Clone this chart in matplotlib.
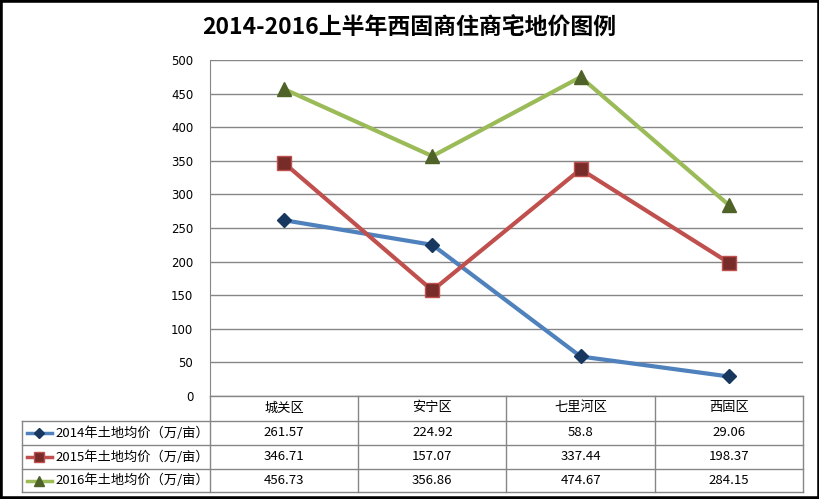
import matplotlib
matplotlib.use("Agg")
import matplotlib.pyplot as plt
import matplotlib.transforms as mtransforms
from matplotlib.lines import Line2D
from matplotlib.patches import Rectangle

plt.rcParams['font.family'] = ['Noto Sans CJK SC', 'DejaVu Sans']

TITLE = "2014-2016上半年西固商住商宅地价图例"
districts = ["城关区", "安宁区", "七里河区", "西固区"]
series_names = ["2014年土地均价（万/亩）", "2015年土地均价（万/亩）",
                "2016年土地均价（万/亩）"]
price_2014 = [261.57, 224.92, 58.8, 29.06]
price_2015 = [346.71, 157.07, 337.44, 198.37]
price_2016 = [456.73, 356.86, 474.67, 284.15]
y_ticks = [0, 50, 100, 150, 200, 250, 300, 350, 400, 450, 500]

W, H = 820, 499
GRID_C = "#868686"
styles = [  # line colour, marker, marker face, marker edge, marker size
    ("#4F81BD", "D", "#17375E", "#17375E", 7),
    ("#C0504D", "s", "#772C2A", "#C0504D", 10.5),
    ("#9BBB59", "^", "#4F6228", "#4F6228", 10.5),
]


def fx(px):
    return px / W


def fy(py):
    return 1 - py / H


fig = plt.figure(figsize=(W / 100, H / 100), dpi=100)
fig.patches.append(Rectangle((0, 0), 1, 1, transform=fig.transFigure,
                             fill=False, edgecolor="black", lw=4, zorder=10))

ax = fig.add_axes([fx(210), fy(396), fx(803) - fx(210), fy(60) - fy(396)])
xs = list(range(len(districts)))
all_series = [price_2014, price_2015, price_2016]
for vals, (c, m, mfc, mec, ms) in zip(all_series, styles):
    ax.plot(xs, vals, "-", color=c, lw=3, marker=m, ms=ms, mfc=mfc, mec=mec,
            mew=1, zorder=3)

ax.set_xlim(-0.5, len(districts) - 0.5)
ax.set_ylim(0, 500)
ax.set_yticks(y_ticks)
ax.set_yticklabels([str(v) for v in y_ticks], family="DejaVu Sans", fontsize=8.5)
ax.set_xticks([])
ax.tick_params(axis="y", length=0, pad=12)
ax.grid(axis="y", color=GRID_C, lw=1)
ax.set_axisbelow(True)
for s in ["top", "right", "bottom"]:
    ax.spines[s].set_visible(False)
ax.spines["left"].set_color(GRID_C)

fig.text(fx(409), fy(28), TITLE, ha="center", va="center", fontsize=16.5,
         fontweight="bold")

# -- data table under the plot ----------------------------------------------
tr = mtransforms.blended_transform_factory(ax.transData, fig.transFigure)
row_edges = [396, 421, 445, 469, 492]
x_left, x_right = fx(22), fx(803)
kw = dict(color=GRID_C, lw=1, clip_on=False, transform=fig.transFigure)
# horizontal lines
fig.add_artist(Line2D([fx(210), x_right], [fy(396)] * 2, **kw))
for py in row_edges[1:]:
    fig.add_artist(Line2D([x_left, x_right], [fy(py)] * 2, **kw))
# vertical lines
fig.add_artist(Line2D([x_left, x_left], [fy(421), fy(492)], **kw))
fig.add_artist(Line2D([fx(210), fx(210)], [fy(396), fy(492)], **kw))
for i in range(len(districts)):
    fig.add_artist(Line2D([i + 0.5, i + 0.5], [fy(396), fy(492)], color=GRID_C,
                          lw=1, transform=tr))

for i, name in enumerate(districts):
    fig.text(i, fy(408), name, transform=tr, ha="center", va="center",
             fontsize=9.5)

for r, (vals, label, (c, m, mfc, mec, ms)) in enumerate(
        zip(all_series, series_names, styles)):
    yc = fy((row_edges[r + 1] + row_edges[r + 2]) / 2)
    fig.add_artist(Line2D([fx(27), fx(52)], [yc, yc], color=c, lw=2.5,
                          transform=fig.transFigure))
    fig.add_artist(Line2D([fx(39.5)], [yc], marker=m, ms=ms * 0.75, mfc=mfc,
                          mec=mec, lw=0, transform=fig.transFigure))
    fig.text(fx(55), yc, label, ha="left", va="center", fontsize=9.5)
    for i, v in enumerate(vals):
        fig.text(i, yc, str(v), transform=tr, ha="center", va="center",
                 fontsize=9.5)

fig.savefig("out.png", dpi=100)
